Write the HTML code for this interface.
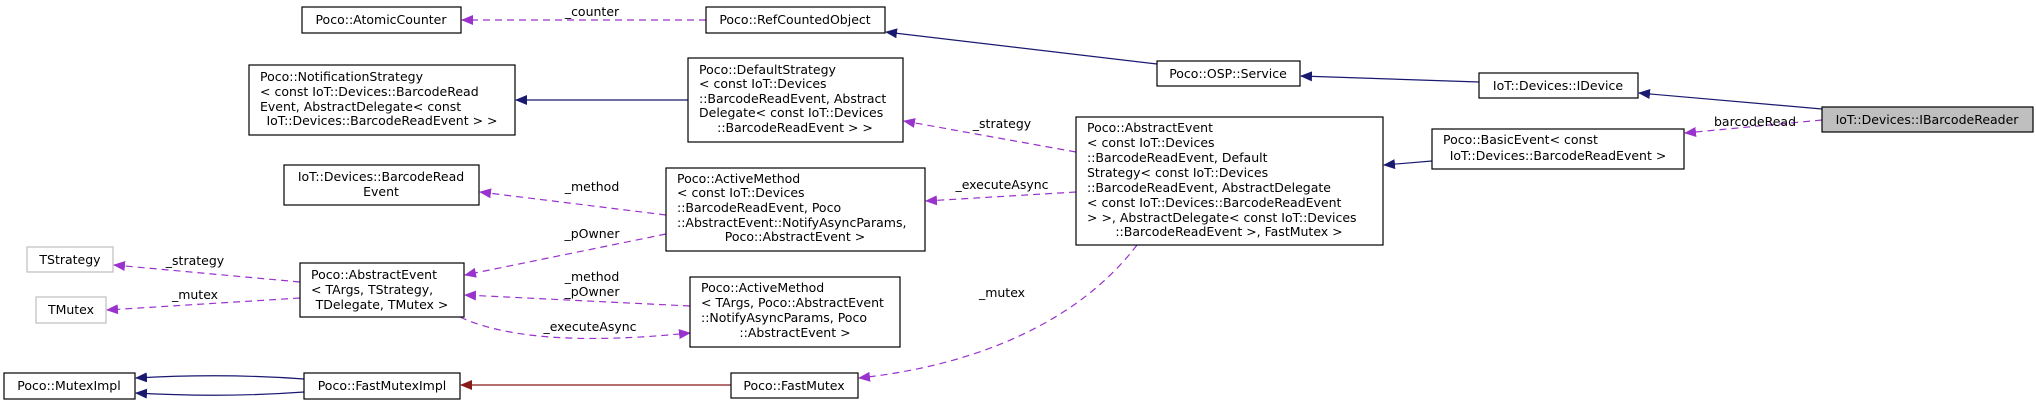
<!DOCTYPE html>
<html><head><meta charset="utf-8"><style>
html,body{margin:0;padding:0;background:#fff;}
svg{display:block;}
text{font-family:"DejaVu Sans","Liberation Sans",sans-serif;font-size:12.5px;fill:#000;}
.b{fill:#fff;stroke:#000;stroke-width:1.2;}
.g{fill:#fff;stroke:#bfbfbf;stroke-width:1.2;}
.n{fill:none;stroke:#191970;stroke-width:1.2;}
.p{fill:none;stroke:#9a32cd;stroke-width:1.2;stroke-dasharray:7,5;}
.r{fill:none;stroke:#8b1a1a;stroke-width:1.2;}
</style></head><body>
<svg width="2036" height="404" viewBox="0 0 2036 404" xmlns="http://www.w3.org/2000/svg">
<defs>
<marker id="an" markerWidth="12" markerHeight="10" refX="11" refY="5" orient="auto" markerUnits="userSpaceOnUse"><path d="M0,0 L12,5 L0,10 z" fill="#191970"/></marker>
<marker id="ap" markerWidth="12" markerHeight="10" refX="11" refY="5" orient="auto" markerUnits="userSpaceOnUse"><path d="M0,0 L12,5 L0,10 z" fill="#9a32cd"/></marker>
<marker id="ar" markerWidth="12" markerHeight="10" refX="11" refY="5" orient="auto" markerUnits="userSpaceOnUse"><path d="M0,0 L12,5 L0,10 z" fill="#8b1a1a"/></marker>
</defs>

<path class="p" d="M706,20 L462,20" marker-end="url(#ap)"/>
<text x="592" y="16" text-anchor="middle">_counter</text>
<path class="n" d="M1157,64 L886,32" marker-end="url(#an)"/>
<path class="n" d="M1479,82 L1301,76" marker-end="url(#an)"/>
<path class="n" d="M1822,109 L1639,93" marker-end="url(#an)"/>
<path class="p" d="M1822,120 L1685,133" marker-end="url(#ap)"/>
<text x="1755" y="126" text-anchor="middle">barcodeRead</text>
<path class="n" d="M1432,161 L1384,165" marker-end="url(#an)"/>
<path class="n" d="M688,100 L516,100" marker-end="url(#an)"/>
<path class="p" d="M1076,152 L904,121" marker-end="url(#ap)"/>
<text x="1002" y="128" text-anchor="middle">_strategy</text>
<path class="p" d="M1076,192 L926,201" marker-end="url(#ap)"/>
<text x="1002" y="189" text-anchor="middle">_executeAsync</text>
<path class="p" d="M666,215 L480,192" marker-end="url(#ap)"/>
<text x="592" y="191" text-anchor="middle">_method</text>
<path class="p" d="M666,234 L465,275" marker-end="url(#ap)"/>
<text x="592" y="238" text-anchor="middle">_pOwner</text>
<path class="p" d="M690,306 L465,295" marker-end="url(#ap)"/>
<text x="592" y="281" text-anchor="middle">_method</text>
<text x="592" y="296" text-anchor="middle">_pOwner</text>
<path class="p" d="M460,317 C520,345 620,340 690,333" marker-end="url(#ap)"/>
<text x="590" y="331" text-anchor="middle">_executeAsync</text>
<path class="p" d="M300,282 L114,265" marker-end="url(#ap)"/>
<text x="195" y="265" text-anchor="middle">_strategy</text>
<path class="p" d="M300,298 L107,310" marker-end="url(#ap)"/>
<text x="195" y="299" text-anchor="middle">_mutex</text>
<path class="n" d="M304,379 C250,375 190,375 136,378" marker-end="url(#an)"/>
<path class="n" d="M304,392 C250,396 190,396 136,393" marker-end="url(#an)"/>
<path class="r" d="M731,385 L461,385" marker-end="url(#ar)"/>
<path class="p" d="M1137,245 C1080,320 980,365 859,378" marker-end="url(#ap)"/>
<text x="1002" y="297" text-anchor="middle">_mutex</text>

<rect class="b" x="302" y="7" width="159" height="26"/>
<text x="381" y="24" text-anchor="middle">Poco::AtomicCounter</text>

<rect class="b" x="706" y="7" width="179" height="26"/>
<text x="795" y="24" text-anchor="middle">Poco::RefCountedObject</text>

<rect class="b" x="249" y="65" width="266" height="70"/>
<text x="260" y="81">Poco::NotificationStrategy</text>
<text x="260" y="96">&lt; const IoT::Devices::BarcodeRead</text>
<text x="260" y="111">Event, AbstractDelegate&lt; const</text>
<text x="382" y="125" text-anchor="middle">IoT::Devices::BarcodeReadEvent &gt; &gt;</text>

<rect class="b" x="688" y="58" width="215" height="84"/>
<text x="699" y="74">Poco::DefaultStrategy</text>
<text x="699" y="88">&lt; const IoT::Devices</text>
<text x="699" y="103">::BarcodeReadEvent, Abstract</text>
<text x="699" y="117">Delegate&lt; const IoT::Devices</text>
<text x="795" y="132" text-anchor="middle">::BarcodeReadEvent &gt; &gt;</text>

<rect class="b" x="1157" y="61" width="143" height="25"/>
<text x="1228" y="78" text-anchor="middle">Poco::OSP::Service</text>

<rect class="b" x="1479" y="73" width="159" height="25"/>
<text x="1558" y="90" text-anchor="middle">IoT::Devices::IDevice</text>

<rect x="1822" y="107" width="211" height="25" fill="#bfbfbf" stroke="#000" stroke-width="1.2"/>
<text x="1927" y="124" text-anchor="middle">IoT::Devices::IBarcodeReader</text>

<rect class="b" x="1432" y="129" width="252" height="40"/>
<text x="1443" y="144">Poco::BasicEvent&lt; const</text>
<text x="1558" y="160" text-anchor="middle">IoT::Devices::BarcodeReadEvent &gt;</text>

<rect class="b" x="1076" y="117" width="307" height="128"/>
<text x="1087" y="132">Poco::AbstractEvent</text>
<text x="1087" y="147">&lt; const IoT::Devices</text>
<text x="1087" y="162">::BarcodeReadEvent, Default</text>
<text x="1087" y="177">Strategy&lt; const IoT::Devices</text>
<text x="1087" y="192">::BarcodeReadEvent, AbstractDelegate</text>
<text x="1087" y="207">&lt; const IoT::Devices::BarcodeReadEvent</text>
<text x="1087" y="222"> &gt; &gt;, AbstractDelegate&lt; const IoT::Devices</text>
<text x="1229" y="236" text-anchor="middle">::BarcodeReadEvent &gt;, FastMutex &gt;</text>

<rect class="b" x="284" y="165" width="195" height="40"/>
<text x="381" y="181" text-anchor="middle">IoT::Devices::BarcodeRead</text>
<text x="381" y="196" text-anchor="middle">Event</text>

<rect class="b" x="666" y="168" width="259" height="83"/>
<text x="677" y="183">Poco::ActiveMethod</text>
<text x="677" y="197">&lt; const IoT::Devices</text>
<text x="677" y="212">::BarcodeReadEvent, Poco</text>
<text x="677" y="227">::AbstractEvent::NotifyAsyncParams,</text>
<text x="795" y="241" text-anchor="middle">Poco::AbstractEvent &gt;</text>

<rect class="g" x="27" y="247" width="86" height="25"/>
<text x="70" y="264" text-anchor="middle">TStrategy</text>

<rect class="g" x="36" y="297" width="70" height="26"/>
<text x="71" y="314" text-anchor="middle">TMutex</text>

<rect class="b" x="300" y="263" width="164" height="54"/>
<text x="311" y="279">Poco::AbstractEvent</text>
<text x="311" y="294">&lt; TArgs, TStrategy,</text>
<text x="382" y="309" text-anchor="middle">TDelegate, TMutex &gt;</text>

<rect class="b" x="690" y="277" width="210" height="70"/>
<text x="701" y="292">Poco::ActiveMethod</text>
<text x="701" y="307">&lt; TArgs, Poco::AbstractEvent</text>
<text x="701" y="322">::NotifyAsyncParams, Poco</text>
<text x="795" y="337" text-anchor="middle">::AbstractEvent &gt;</text>

<rect class="b" x="4" y="373" width="131" height="26"/>
<text x="69" y="390" text-anchor="middle">Poco::MutexImpl</text>

<rect class="b" x="304" y="373" width="156" height="26"/>
<text x="382" y="390" text-anchor="middle">Poco::FastMutexImpl</text>

<rect class="b" x="731" y="373" width="127" height="25"/>
<text x="794" y="390" text-anchor="middle">Poco::FastMutex</text>
</svg>
</body></html>
